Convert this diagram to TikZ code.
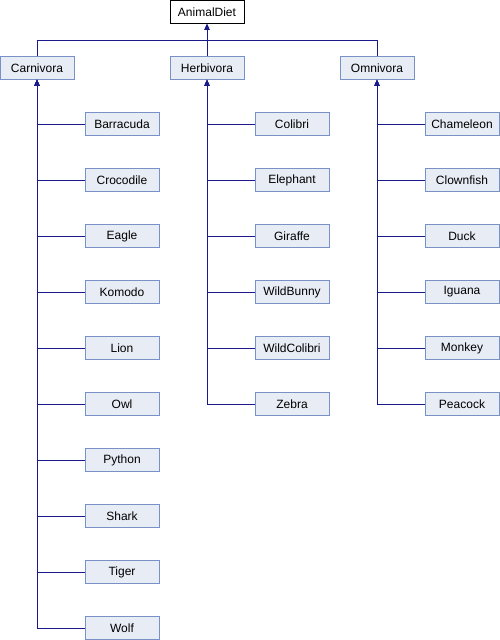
\documentclass[tikz,border=0pt]{standalone}
\usepackage{fontspec}
\setmainfont{Liberation Sans}
\usetikzlibrary{arrows.meta}
\definecolor{edgeblue}{RGB}{25,25,140}
\definecolor{boxfill}{RGB}{232,236,245}
\definecolor{boxline}{RGB}{120,145,200}
\tikzset{
    classbox/.style={draw=boxline, fill=boxfill, line width=0.8pt, minimum width=74pt, minimum height=23pt, inner sep=0pt, font=\fontsize{12}{14}\selectfont},
    rootbox/.style={classbox, draw=black, fill=white},
    edge/.style={draw=edgeblue, line width=1pt, -{Triangle[width=5pt,length=6pt]}}
}
\begin{document}
\begin{tikzpicture}[x=1pt,y=1pt]
    \useasboundingbox (0,0) rectangle (500,-640);
    \node[rootbox] (animaldiet) at (207,-12) {AnimalDiet};
    \node[classbox] (carnivora) at (37,-68) {Carnivora};
    \node[classbox] (herbivora) at (207,-68) {Herbivora};
    \node[classbox] (omnivora) at (377,-68) {Omnivora};
    \coordinate (busleft) at (37,-40);
    \coordinate (busright) at (377,-40);
    \draw[edge] (carnivora.north) -- (busleft) -| (animaldiet.south);
    \draw[edge] (herbivora.north) -- (animaldiet.south);
    \draw[edge] (omnivora.north) -- (busright) -| (animaldiet.south);
    % carnivora children
    \foreach \animal [count=\i] in {Barracuda,Crocodile,Eagle,Komodo,Lion,Owl,Python,Shark,Tiger,Wolf}{
        \node[classbox] (\animal) at (122,{-124-56*(\i-1)}) {\animal};
        \draw[edge] (\animal.west) -| (carnivora.south);
    }
    % herbivora children
    \foreach \animal [count=\i] in {Colibri,Elephant,Giraffe,WildBunny,WildColibri,Zebra}{
        \node[classbox] (\animal) at (292,{-124-56*(\i-1)}) {\animal};
        \draw[edge] (\animal.west) -| (herbivora.south);
    }
    % omnivora children
    \foreach \animal [count=\i] in {Chameleon,Clownfish,Duck,Iguana,Monkey,Peacock}{
        \node[classbox] (\animal) at (462,{-124-56*(\i-1)}) {\animal};
        \draw[edge] (\animal.west) -| (omnivora.south);
    }
\end{tikzpicture}
\end{document}
